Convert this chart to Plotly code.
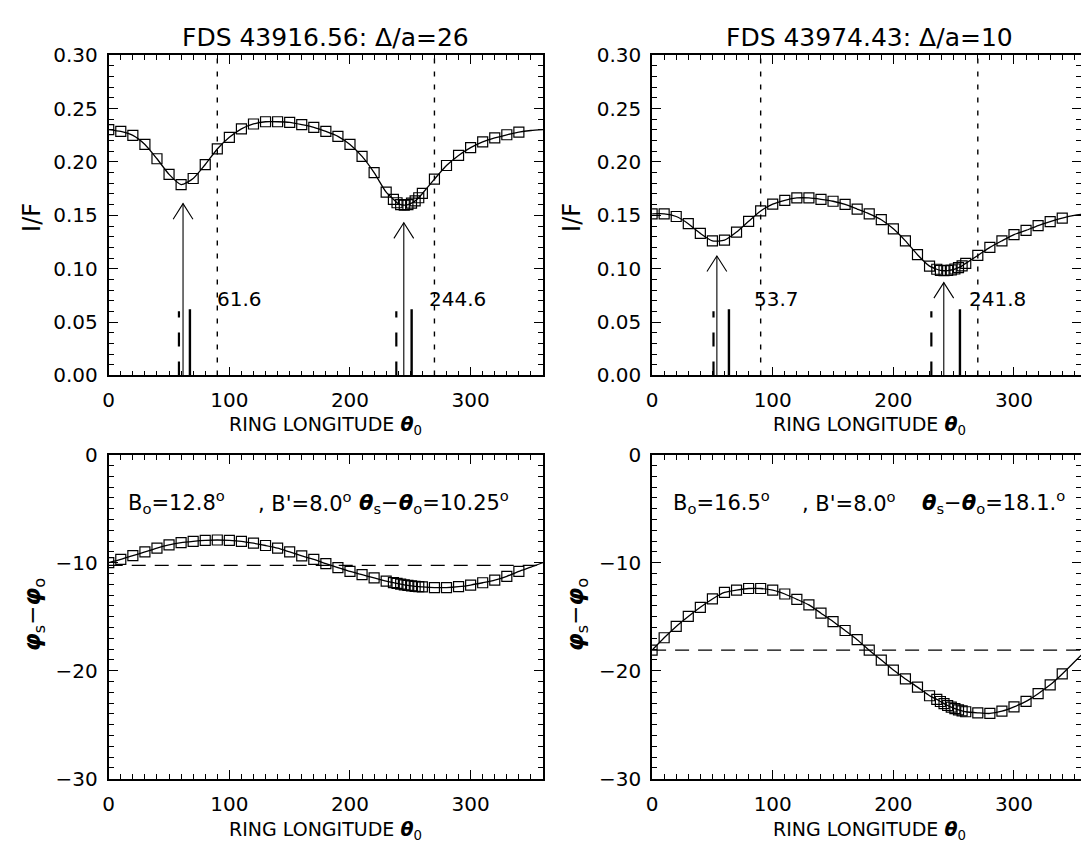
import plotly.graph_objects as go

# ---------------- data ----------------
theta = [0, 10, 20, 30, 40, 50, 60, 70, 80, 90, 100, 110, 120, 130, 140, 150, 160, 170, 180,
         190, 200, 210, 220, 230, 236, 239, 242, 245, 248, 251, 254, 257, 260,
         270, 280, 290, 300, 310, 320, 330, 340]
theta_end = [350, 360]

if_left = [0.2304, 0.2286, 0.2249, 0.2164, 0.2030, 0.1884, 0.1787, 0.1845, 0.1976, 0.2122,
           0.2231, 0.2310, 0.2356, 0.2377, 0.2377, 0.2371, 0.2350, 0.2325, 0.2286, 0.2240,
           0.2164, 0.2052, 0.1900, 0.1717, 0.1650, 0.1618, 0.1600, 0.1595, 0.1600, 0.1614,
           0.1635, 0.1665, 0.1705, 0.1839, 0.1967, 0.2061, 0.2134, 0.2188, 0.2225, 0.2255, 0.2280]
if_left_end = [0.2295, 0.2304]

if_right = [0.1514, 0.1514, 0.1489, 0.1422, 0.1331, 0.1261, 0.1267, 0.1343, 0.1444, 0.1541,
            0.1605, 0.1641, 0.1663, 0.1663, 0.1650, 0.1632, 0.1602, 0.1559, 0.1514, 0.1459,
            0.1374, 0.1261, 0.1131, 0.1024, 0.0995, 0.0985, 0.0981, 0.0983, 0.0988, 0.0997,
            0.1010, 0.1027, 0.1050, 0.1124, 0.1200, 0.1261, 0.1319, 0.1359, 0.1404, 0.1441, 0.1474]
if_right_end = [0.1500, 0.1514]

phi_left = [-10.00, -9.70, -9.34, -9.01, -8.65, -8.35, -8.14, -8.02, -7.93, -7.90, -7.93, -8.02,
            -8.20, -8.41, -8.65, -9.01, -9.37, -9.70, -10.09, -10.45, -10.81, -11.11, -11.41,
            -11.71, -11.85, -11.92, -11.99, -12.05, -12.10, -12.15, -12.19, -12.22, -12.25,
            -12.31, -12.31, -12.22, -12.07, -11.86, -11.62, -11.26, -10.81]
phi_left_end = [-10.42, -10.00]

phi_right = [-18.10, -16.95, -15.90, -14.98, -14.13, -13.36, -12.75, -12.54, -12.39, -12.39,
             -12.54, -12.90, -13.39, -13.91, -14.68, -15.45, -16.28, -17.13, -18.10, -19.02,
             -19.94, -20.76, -21.52, -22.32, -22.65, -22.85, -23.05, -23.22, -23.38, -23.52,
             -23.63, -23.72, -23.80, -23.90, -23.96, -23.75, -23.35, -22.84, -22.13, -21.31, -20.30]
phi_right_end = [-19.20, -18.10]

titles = ["FDS 43916.56: Δ/a=26", "FDS 43974.43: Δ/a=10"]
minima_left = [61.6, 244.6]
minima_right = [53.7, 241.8]
arrow_tip_left = [0.161, 0.143]
arrow_tip_right = [0.112, 0.087]
label_x_left = [88.5, 263.5]
label_x_right = [82.5, 261.4]
label_y = 0.072
bar_dash_left = [58.2, 238.4]
bar_solid_left = [67.3, 251.1]
bar_dash_right = [50.9, 231.5]
bar_solid_right = [63.7, 255.2]
bar_height = 0.062
quadrature = [90, 270]
theta_diff = [10.25, 18.1]
b0_text = ["12.8", "16.5"]
bprime_text = ["8.0", "8.0"]
dtheta_text = ["10.25", "18.1."]
text_x_left = [14.2, 122.0, 206.0]
text_x_right = [15.4, 122.9, 222.4]
text_y = -4.35

# ---------------- layout geometry ----------------
W, H = 1081, 850
LX = [103.3, 540.0]
RX0 = 649.7
pxu = (LX[1] - LX[0]) / 360.0
right_max = (W - RX0) / pxu
TOP = [44.5, 374.0]
BOT = [455.5, 789.0]


def fy(p):
    return (H - p) / H


FONT = "DejaVu Sans"
fig = go.Figure()

panels = [
    ("x", "y", theta, if_left, if_left_end),
    ("x2", "y2", theta, if_right, if_right_end),
    ("x3", "y3", theta, phi_left, phi_left_end),
    ("x4", "y4", theta, phi_right, phi_right_end),
]
for xa, ya, th, v, vend in panels:
    fig.add_trace(go.Scatter(x=th + theta_end, y=v + vend, mode="lines",
                             line=dict(color="black", width=1.3, shape="spline", smoothing=0.6),
                             xaxis=xa, yaxis=ya, showlegend=False, hoverinfo="skip"))
    fig.add_trace(go.Scatter(x=th, y=v, mode="markers",
                             marker=dict(symbol="square-open", size=10, color="black",
                                         line=dict(width=1.2, color="black")),
                             xaxis=xa, yaxis=ya, showlegend=False))

# top panel decorations
head_dx = 8.2
head_dy = 0.0146
tops = [("x", "y", minima_left, arrow_tip_left, label_x_left, bar_dash_left, bar_solid_left),
        ("x2", "y2", minima_right, arrow_tip_right, label_x_right, bar_dash_right, bar_solid_right)]
for xa, ya, mins, tips, lxs, bd, bs in tops:
    for q in quadrature:
        fig.add_trace(go.Scatter(x=[q, q], y=[0, 0.30], mode="lines",
                                 line=dict(color="black", width=1.4, dash="5px,8px"),
                                 xaxis=xa, yaxis=ya, showlegend=False, hoverinfo="skip"))
    for m, t in zip(mins, tips):
        fig.add_trace(go.Scatter(x=[m, m], y=[0, t], mode="lines",
                                 line=dict(color="black", width=1.1),
                                 xaxis=xa, yaxis=ya, showlegend=False, hoverinfo="skip"))
        fig.add_trace(go.Scatter(x=[m - head_dx, m, m + head_dx], y=[t - head_dy, t, t - head_dy],
                                 mode="lines", line=dict(color="black", width=1.1),
                                 xaxis=xa, yaxis=ya, showlegend=False, hoverinfo="skip"))
    for b in bd:
        fig.add_trace(go.Scatter(x=[b, b], y=[0, bar_height * 0.97], mode="lines",
                                 line=dict(color="black", width=2.2, dash="14px,15px"),
                                 xaxis=xa, yaxis=ya, showlegend=False, hoverinfo="skip"))
    for b in bs:
        fig.add_trace(go.Scatter(x=[b, b], y=[0, bar_height], mode="lines",
                                 line=dict(color="black", width=2.4),
                                 xaxis=xa, yaxis=ya, showlegend=False, hoverinfo="skip"))
    for m, lx in zip(mins, lxs):
        fig.add_annotation(x=lx, y=label_y, xref=xa, yref=ya, text=f"{m:.1f}",
                           showarrow=False, xanchor="left", yanchor="middle",
                           font=dict(family=FONT, size=20, color="black"))

# bottom panel reference lines
for (xa, ya), d in zip([("x3", "y3"), ("x4", "y4")], theta_diff):
    fig.add_trace(go.Scatter(x=[0, 360], y=[-d, -d], mode="lines",
                             line=dict(color="black", width=1.4, dash="14px,9px"),
                             xaxis=xa, yaxis=ya, showlegend=False, hoverinfo="skip"))

# ---------------- axes ----------------
def axis_common(**kw):
    d = dict(showline=True, linecolor="black", linewidth=1.8, mirror="ticks",
             ticks="inside", ticklen=9, tickwidth=1.4, tickcolor="black",
             showgrid=False, zeroline=False,
             tickfont=dict(family=FONT, size=20, color="black"))
    d.update(kw)
    return d


xminor = dict(ticks="inside", ticklen=5, dtick=10, tickcolor="black", tickwidth=1.2)
yminor_top = dict(ticks="inside", ticklen=5, dtick=0.01, tickcolor="black", tickwidth=1.2)
yminor_bot = dict(ticks="inside", ticklen=5, dtick=1, tickcolor="black", tickwidth=1.2)
xdom_l = [LX[0] / W, LX[1] / W]
xdom_r = [RX0 / W, 1.0]
ydom_t = [fy(TOP[1]), fy(TOP[0])]
ydom_b = [fy(BOT[1]), fy(BOT[0])]
fig.update_layout(
    xaxis=axis_common(domain=xdom_l, range=[0, 360], anchor="y", tickvals=[0, 100, 200, 300],
                      minor=xminor, ticklabelstandoff=6),
    xaxis2=axis_common(domain=xdom_r, range=[0, right_max], anchor="y2", tickvals=[0, 100, 200, 300],
                       minor=xminor, ticklabelstandoff=6),
    xaxis3=axis_common(domain=xdom_l, range=[0, 360], anchor="y3", tickvals=[0, 100, 200, 300],
                       minor=xminor, ticklabelstandoff=6),
    xaxis4=axis_common(domain=xdom_r, range=[0, right_max], anchor="y4", tickvals=[0, 100, 200, 300],
                       minor=xminor, ticklabelstandoff=6),
    yaxis=axis_common(domain=ydom_t, range=[0, 0.30], anchor="x", dtick=0.05,
                      tickformat=".2f", ticklabelstandoff=5, minor=yminor_top),
    yaxis2=axis_common(domain=ydom_t, range=[0, 0.30], anchor="x2", dtick=0.05, mirror=False,
                       tickformat=".2f", ticklabelstandoff=5, minor=yminor_top),
    yaxis3=axis_common(domain=ydom_b, range=[-30, 0], anchor="x3", dtick=10,
                       ticklabelstandoff=5, minor=yminor_bot),
    yaxis4=axis_common(domain=ydom_b, range=[-30, 0], anchor="x4", dtick=10, mirror=False,
                       ticklabelstandoff=5, minor=yminor_bot),
    # right-hand tick rows of the right column (axis line itself lies beyond the picture edge)
    yaxis5=dict(domain=ydom_t, range=[0, 0.30], anchor="x2", overlaying="y2", side="right",
                showline=False, showgrid=False, zeroline=False, showticklabels=False,
                ticks="inside", ticklen=9, tickwidth=1.4, tickcolor="black", dtick=0.05,
                minor=yminor_top),
    yaxis6=dict(domain=ydom_b, range=[-30, 0], anchor="x4", overlaying="y4", side="right",
                showline=False, showgrid=False, zeroline=False, showticklabels=False,
                ticks="inside", ticklen=9, tickwidth=1.4, tickcolor="black", dtick=10,
                minor=yminor_bot),
)
# invisible anchors so the overlay axes are drawn
fig.add_trace(go.Scatter(x=[0], y=[0.0], mode="markers", marker=dict(opacity=0),
                         xaxis="x2", yaxis="y5", showlegend=False, hoverinfo="skip"))
fig.add_trace(go.Scatter(x=[0], y=[-30.0], mode="markers", marker=dict(opacity=0),
                         xaxis="x4", yaxis="y6", showlegend=False, hoverinfo="skip"))

# ---------------- text ----------------
for xa, t in zip(["x", "x2"], titles):
    fig.add_annotation(x=180, y=fy(26), xref=xa, yref="paper", text=t, showarrow=False,
                       xanchor="center", yanchor="middle",
                       font=dict(family=FONT, size=25, color="black"))

xtitle = "RING LONGITUDE <b><i>θ</i></b><sub>0</sub>"
for xa, ytop in [("x", 411), ("x2", 411), ("x3", 827), ("x4", 827)]:
    fig.add_annotation(x=180, y=fy(ytop), xref=xa, yref="paper", text=xtitle, showarrow=False,
                       xanchor="center", yanchor="top",
                       font=dict(family=FONT, size=19, color="black"))

for xp in [26, 569]:
    fig.add_annotation(x=xp / W, y=fy(211), xref="paper", yref="paper", text="I/F",
                       textangle=-90, showarrow=False, xanchor="center", yanchor="middle",
                       font=dict(family=FONT, size=24, color="black"))
for xp in [29, 575]:
    fig.add_annotation(x=xp / W, y=fy(620), xref="paper", yref="paper",
                       text="<b><i>φ</i></b><sub>s</sub>−<b><i>φ</i></b><sub>o</sub>",
                       textangle=-90, showarrow=False, xanchor="center", yanchor="middle",
                       font=dict(family=FONT, size=23, color="black"))

for (xa, ya), txs, b0, bp, dt in zip([("x3", "y3"), ("x4", "y4")], [text_x_left, text_x_right],
                                      b0_text, bprime_text, dtheta_text):
    parts = [f"B<sub>o</sub>={b0}<sup>o</sup>",
             f", B'={bp}<sup>o</sup>",
             f"<b><i>θ</i></b><sub>s</sub>−<b><i>θ</i></b><sub>o</sub>={dt}<sup>o</sup>"]
    for tx, p in zip(txs, parts):
        fig.add_annotation(x=tx, y=text_y, xref=xa, yref=ya, text=p, showarrow=False,
                           xanchor="left", yanchor="middle",
                           font=dict(family=FONT, size=21, color="black"))

fig.update_layout(width=W, height=H, margin=dict(l=0, r=0, t=0, b=0),
                  paper_bgcolor="white", plot_bgcolor="white", showlegend=False)

fig.write_html("out.html")
